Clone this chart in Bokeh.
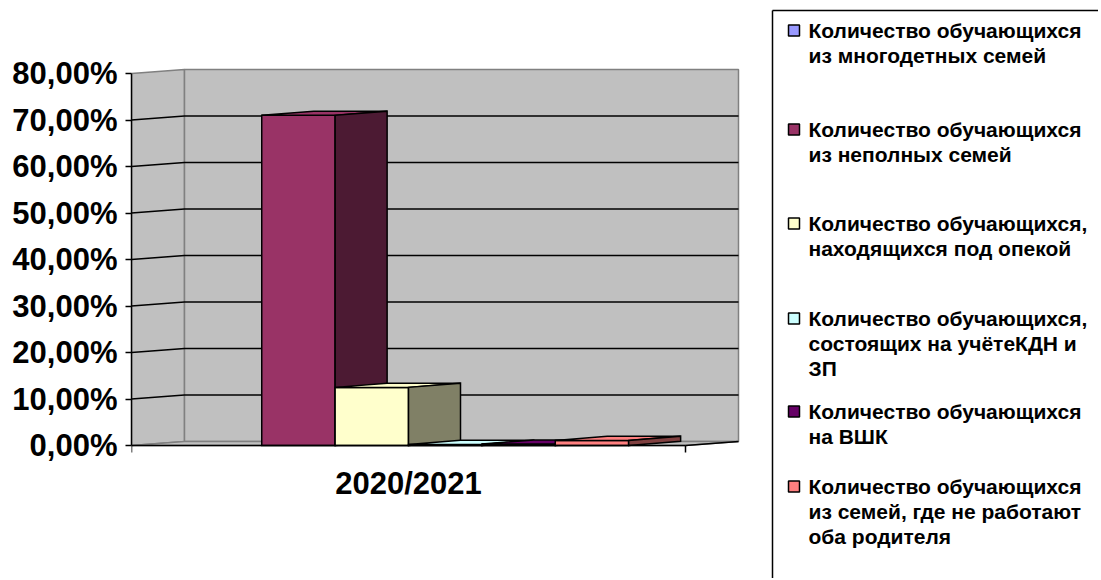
from bokeh.plotting import figure
from bokeh.models import Range1d, FixedTicker
from bokeh.layouts import row
from bokeh.embed import file_html
from bokeh.resources import INLINE
from bokeh.core.properties import value

# ---------------- data ----------------
categories = ["2020/2021"]
series_labels = [
    ["Количество обучающихся", "из многодетных семей"],
    ["Количество обучающихся", "из неполных семей"],
    ["Количество обучающихся,", "находящихся под опекой"],
    ["Количество обучающихся,", "состоящих на учётеКДН и", "ЗП"],
    ["Количество обучающихся", "на ВШК"],
    ["Количество обучающихся", "из семей, где не работают", "оба родителя"],
]
series_values = [0.0, 71.0, 12.5, 0.2, 0.3, 1.1]   # percent
front_colors = ["#9999FF", "#993366", "#FFFFCC", "#CCFFFF", "#660066", "#FF8080"]
side_colors = ["#4C4C80", "#4C1A33", "#808066", "#668080", "#330033", "#804040"]
y_ticks = [0, 10, 20, 30, 40, 50, 60, 70, 80]

FONT = "Liberation Sans"

# ---------------- chart ----------------
W_TOTAL, H = 1098, 578
W1 = 770
AX_X, AX_Y = 131, 445          # pixel position of the axes origin
PX_PER_X = 554                 # pixels per category band
PX_PER_Y = 372 / 80            # pixels per percent

p = figure(width=W1, height=H, output_backend="svg", toolbar_location=None,
           x_range=Range1d(0, (W1 - AX_X) / PX_PER_X),
           y_range=Range1d(-(H - AX_Y) / PX_PER_Y, AX_Y / PX_PER_Y),
           x_axis_location=None,
           min_border_left=AX_X, min_border_right=0,
           min_border_top=0, min_border_bottom=0)
p.outline_line_color = None
p.xgrid.visible = False
p.ygrid.visible = False

px_x = 1 / PX_PER_X
px_y = 1 / PX_PER_Y
wdx, wdy = 53 * px_x, 4 * px_y     # wall depth
bdx, bdy = 52 * px_x, 4.2 * px_y   # bar depth
ymax = y_ticks[-1]

wall_fill, wall_line = "#C0C0C0", "#808080"
p.patch([0, wdx, wdx, 0], [0, wdy, ymax + wdy, ymax],
        fill_color=wall_fill, line_color=wall_line, line_width=1.5)
p.quad(left=[wdx], right=[1 + wdx], bottom=[wdy], top=[ymax + wdy],
       fill_color=wall_fill, line_color=wall_line, line_width=1.5)
p.patch([0, 1, 1 + wdx, wdx], [0, 0, wdy, wdy],
        fill_color=wall_fill, line_color=wall_line, line_width=1.5)

# gridlines
gx, gy = [], []
for t in y_ticks[1:-1]:
    gx.append([0, wdx, 1 + wdx])
    gy.append([t, t + wdy, t + wdy])
p.multi_line(gx, gy, line_color="black", line_width=1.5)
p.line([1, 1 + wdx], [0, wdy], line_color="black", line_width=1.5)

# bars
n = len(series_values)
gap = 1.55
w = 1 / (n + gap)
start = gap / 2 * w
for i, v in enumerate(series_values):
    if v <= 0:
        continue
    x0 = start + i * w
    x1 = x0 + w
    p.quad(left=[x0], right=[x1], bottom=[0], top=[v],
           fill_color=front_colors[i], line_color="black", line_width=1.5,
           line_join="miter")
    p.patch([x0, x1, x1 + bdx, x0 + bdx], [v, v, v + bdy, v + bdy],
            fill_color=front_colors[i], line_color="black", line_width=1.5,
            line_join="miter")
    p.patch([x1, x1 + bdx, x1 + bdx, x1], [0, bdy, v + bdy, v],
            fill_color=side_colors[i], line_color="black", line_width=1.5,
            line_join="miter")

# category (x) axis: baseline, boundary ticks and category label
p.line([0, 1], [0, 0], line_color="black", line_width=1.5)
tick_len = 7 * px_y
p.segment(x0=[0, 1], y0=[0, 0], x1=[0, 1], y1=[-tick_len, -tick_len],
          line_color="black", line_width=1.5)
p.text(x=[(k + 0.5) for k in range(len(categories))], y=[-20 * px_y] * len(categories),
       text=categories, text_font=value(FONT), text_font_style="bold",
       text_font_size="31px", text_align="center", text_baseline="top",
       text_color="black")

# y axis
ya = p.yaxis[0]
ya.ticker = FixedTicker(ticks=y_ticks)
ya.major_label_overrides = {t: f"{t:.2f}%".replace(".", ",") for t in y_ticks}
ya.bounds = (0, ymax)
ya.axis_line_color = "black"
ya.axis_line_width = 1.5
ya.major_tick_out = 6
ya.major_tick_in = 0
ya.major_tick_line_width = 1.5
ya.minor_tick_out = 0
ya.minor_tick_in = 0
ya.major_label_standoff = 8
ya.major_label_text_font = FONT
ya.major_label_text_font_style = "bold"
ya.major_label_text_font_size = "31px"
ya.major_label_text_color = "black"

# ---------------- legend ----------------
W2 = W_TOTAL - W1
q = figure(width=W2, height=H, output_backend="svg", toolbar_location=None,
           x_range=Range1d(0, W2), y_range=Range1d(H, 0),
           x_axis_type=None, y_axis_type=None, min_border=0)
q.outline_line_color = None
q.grid.visible = False

# open box (right and bottom edges fall outside the window)
q.multi_line([[2, 2], [2, W2 + 50]], [[10, H + 50], [10, 10]],
             line_color="black", line_width=1.5)

LEGEND_ROW_Y = [30, 129, 223, 318, 411, 486]
LINE_STEP = 25
MARK_X, TEXT_X, MARK_SIZE = 23.5, 38, 11

q.rect(x=[MARK_X] * n, y=LEGEND_ROW_Y, width=MARK_SIZE, height=MARK_SIZE,
       fill_color=front_colors, line_color="black", line_width=1.5)
tx, ty, tt = [], [], []
for i, lines in enumerate(series_labels):
    for k, s in enumerate(lines):
        tx.append(TEXT_X)
        ty.append(LEGEND_ROW_Y[i] + k * LINE_STEP)
        tt.append(s)
q.text(x=tx, y=ty, text=tt, text_font=value(FONT), text_font_style="bold",
       text_font_size="21px", text_baseline="middle", text_align="left",
       text_color="black")

layout = row(p, q)
open("out.html", "w").write(file_html(layout, INLINE))
